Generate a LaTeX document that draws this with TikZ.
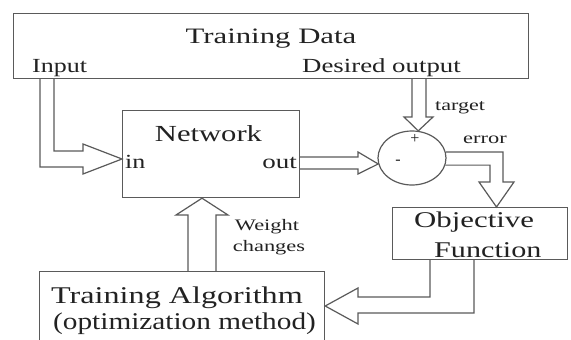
\documentclass[tikz,border=0pt]{standalone}
\usepackage{fontspec}
\setmainfont{Liberation Serif}
\usepackage{graphicx}
\usetikzlibrary{calc,shapes.geometric}
\definecolor{linegray}{HTML}{5A5A5A}
\definecolor{inkgray}{HTML}{222222}
% horizontally widened text
\newcommand{\widetext}[2]{\scalebox{#1}[1]{#2}}
\newcommand{\fs}[1]{\fontsize{#1}{#1}\selectfont}

\begin{document}
\begin{tikzpicture}[x=1pt,y=-1pt,
  box/.style={draw=linegray, line width=1.2pt, inner sep=0pt, anchor=north west},
  fat/.style={draw=linegray, line width=1.2pt, line join=miter},
  lbl/.style={inner sep=0pt, text=inkgray},
]
\fill[white] (0,0) rectangle (571,340);
\useasboundingbox (0,0) rectangle (571,340);
\clip (0,0) rectangle (571,340);

% blocks
\node[box, minimum width=515pt, minimum height=65pt] (data) at (13,13) {};
\node[box, minimum width=177pt, minimum height=87pt] (net) at (122,110) {};
\node[draw=linegray, line width=1.2pt, ellipse, minimum width=68pt,
      minimum height=54pt, inner sep=0pt] (sum) at (412,158) {};
\node[box, minimum width=175pt, minimum height=52pt] (obj) at (392,207) {};
\node[box, minimum width=285pt, minimum height=100pt] (alg) at (39,271) {};

% hollow block arrows
% input -> network
\draw[fat] (40,0 |- data.south) -- (40,167) -- (83,167) -- (83,174)
  -- (net.west |- 0,159) -- (83,144) -- (83,151) -- (54,151) -- (54,0 |- data.south);
% desired output -> summing junction
\draw[fat] (412,0 |- data.south) -- (412,117) -- (404,117) -- (sum.77)
  -- (433,117) -- (426,117) -- (426,0 |- data.south);
% network out -> summing junction
\draw[fat] (net.east |- 0,157) -- (358,157) -- (358,152) -- (sum.190)
  -- (358,174) -- (358,169) -- (net.east |- 0,169);
% error -> objective function
\draw[fat] (sum.10) -| (503,182) -- (514,182) -- (496.5,0 |- obj.north)
  -- (479,182) -- (490,182) |- (sum.-12);
% objective function -> training algorithm
\draw[fat] (430,0 |- obj.south) |- (358,297) -- (358,288) -- (alg.east |- 0,306)
  -- (358,324) -- (358,313) -| (474,0 |- obj.south);
% training algorithm -> network (weight changes)
\draw[fat] (188,0 |- alg.north) -- (188,215) -- (176,215) -- (202,0 |- net.south)
  -- (228,215) -- (216,215) -- (216,0 |- alg.north);

% labels
\node[lbl, anchor=base, font=\fs{22}] (tdata) at (271,43) {\widetext{1.40}{Training Data}};
\node[lbl, anchor=base west, font=\fs{20}] (tin) at (32,72) {\widetext{1.30}{Input}};
\node[lbl, anchor=base west, font=\fs{20}] (tdes) at (302,72) {\widetext{1.34}{Desired output}};
\node[lbl, anchor=base, font=\fs{23}] (tnet) at (208.5,141) {\widetext{1.33}{Network}};
\node[lbl, anchor=base west, font=\fs{20}] (tnin) at (125,168) {\widetext{1.30}{in}};
\node[lbl, anchor=base east, font=\fs{20}] (tnout) at (297,168) {\widetext{1.35}{out}};
\node[lbl, anchor=base west, font=\fs{16}] (ttarget) at (435,110) {\widetext{1.38}{target}};
\node[lbl, anchor=base west, font=\fs{16}] (terror) at (463,143) {\widetext{1.40}{error}};
\node[lbl, font=\fs{16}] (tplus) at (415,139) {+};
\node[lbl, font=\fs{16}] (tminus) at (398,162) {-};
\node[lbl, anchor=base, font=\fs{16}] (tw1) at (267,230) {\widetext{1.40}{Weight}};
\node[lbl, anchor=base, font=\fs{16}] (tw2) at (269,251) {\widetext{1.40}{changes}};
\node[lbl, anchor=base west, font=\fs{22.5}] (tobj1) at (414,227) {\widetext{1.37}{Objective}};
\node[lbl, anchor=base west, font=\fs{22.5}] (tobj2) at (434,257) {\widetext{1.34}{Function}};
\node[lbl, anchor=base west, font=\fs{24}] (talg1) at (51,303) {\widetext{1.34}{Training Algorithm}};
\node[lbl, anchor=base west, font=\fs{24}] (talg2) at (53,329) {\widetext{1.22}{(optimization method)}};
\end{tikzpicture}
\end{document}
